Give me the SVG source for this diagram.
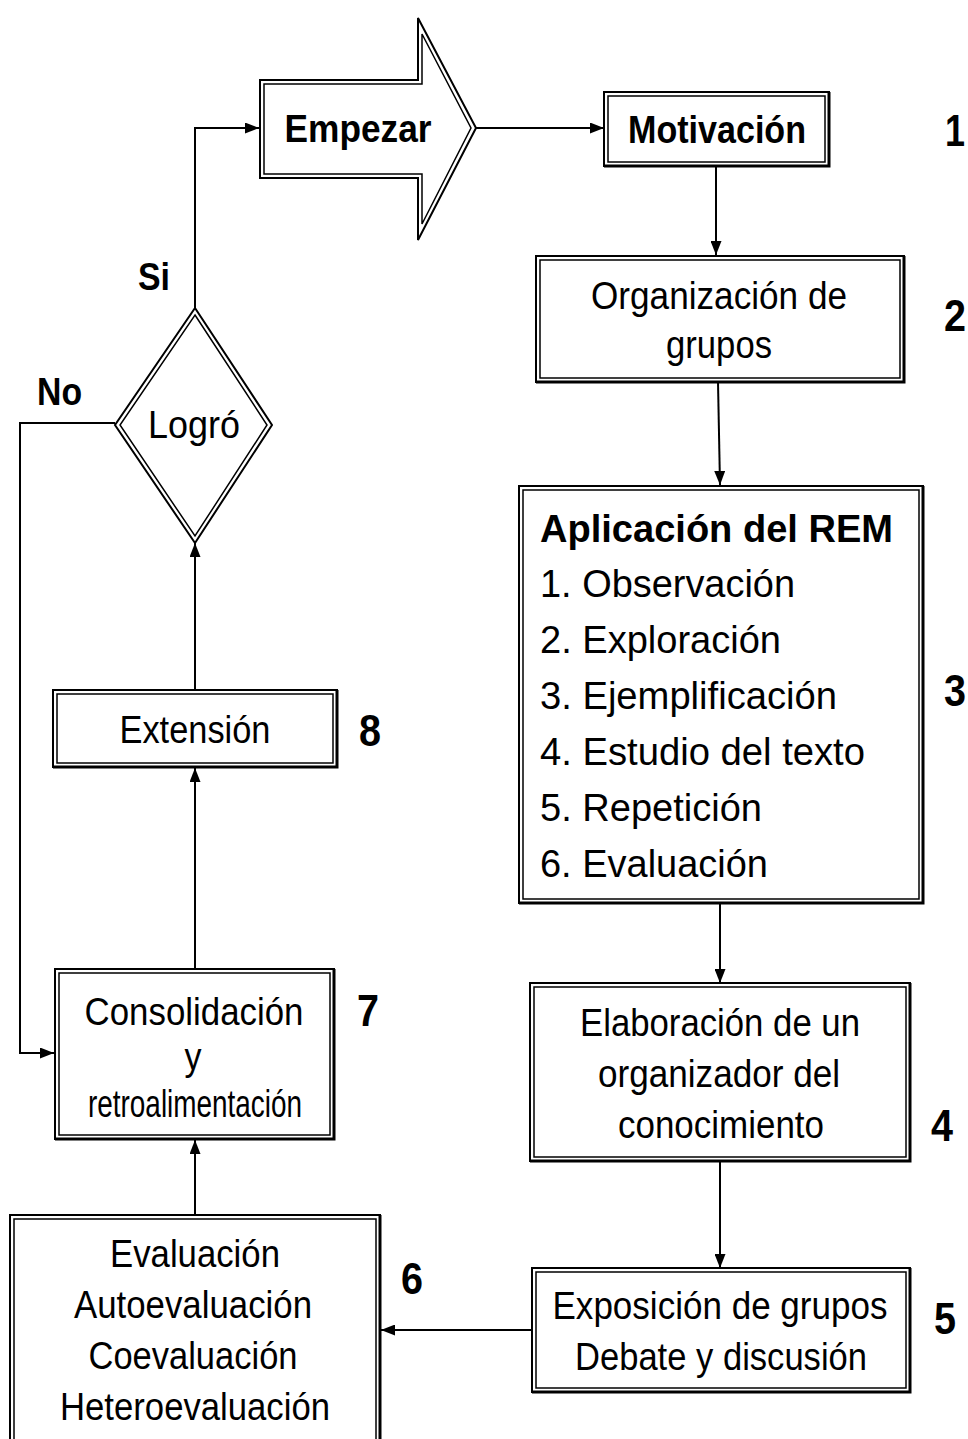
<svg xmlns="http://www.w3.org/2000/svg" width="968" height="1439" viewBox="0 0 968 1439">
<defs>
<marker id="ah" viewBox="0 0 14 11" refX="14" refY="5.5" markerWidth="14" markerHeight="11" markerUnits="userSpaceOnUse" orient="auto">
<path d="M0,0 L14,5.5 L0,11 Z" fill="#000"/>
</marker>
<style>
.o{fill:#fff;stroke:#000;stroke-width:2}
.i{fill:none;stroke:#000;stroke-width:1.5}
.sh{fill:none;stroke:#000;stroke-width:3}
.c{fill:none;stroke:#000;stroke-width:2}
.t{font-family:"Liberation Sans",Arial,sans-serif;font-size:38px;fill:#000}
.m{text-anchor:middle}
.b{font-weight:bold}
.n{font-family:"Liberation Sans",Arial,sans-serif;font-size:44px;font-weight:bold;fill:#000;text-anchor:middle}
</style>
</defs>
<rect width="968" height="1439" fill="#fff"/>

<g id="connectors">
<line class="c" x1="476" y1="128" x2="604" y2="128" marker-end="url(#ah)"/>
<line class="c" x1="716" y1="166" x2="716" y2="255" marker-end="url(#ah)"/>
<line class="c" x1="718" y1="382" x2="720" y2="485" marker-end="url(#ah)"/>
<line class="c" x1="720" y1="903" x2="720" y2="983" marker-end="url(#ah)"/>
<line class="c" x1="720" y1="1161" x2="720" y2="1268" marker-end="url(#ah)"/>
<line class="c" x1="532" y1="1330" x2="381" y2="1330" marker-end="url(#ah)"/>
<line class="c" x1="195" y1="1215" x2="195" y2="1140" marker-end="url(#ah)"/>
<line class="c" x1="195" y1="969" x2="195" y2="768" marker-end="url(#ah)"/>
<line class="c" x1="195" y1="690" x2="195" y2="543" marker-end="url(#ah)"/>
<polyline class="c" points="195,308 195,128 259,128" marker-end="url(#ah)"/>
<polyline class="c" points="115,423 20,423 20,1053 54,1053" marker-end="url(#ah)"/>
<text class="t b" x="138" y="290" font-size="36" textLength="32" lengthAdjust="spacingAndGlyphs">Si</text>
<text class="t b" x="37" y="405" font-size="36" textLength="45" lengthAdjust="spacingAndGlyphs">No</text>
</g>

<g id="empezar">
<polygon class="o" points="260,80 418,80 418,18 476,128 418,240 418,178 260,178"/>
<polygon class="i" points="264,84 422,84 422,34 471,128 422,224 422,174 264,174"/>
<text class="t b" x="358" y="142" text-anchor="middle" textLength="147" lengthAdjust="spacingAndGlyphs">Empezar</text>
</g>

<g id="motivacion">
<rect class="o" x="604" y="92" width="225" height="74"/>
<rect class="i" x="608" y="96" width="217" height="66"/>
<polyline class="sh" points="829,92 829,166 604,166"/>
<text class="t b m" x="717" y="143" textLength="178" lengthAdjust="spacingAndGlyphs">Motivación</text>
<text class="n" x="955" y="146" textLength="20" lengthAdjust="spacingAndGlyphs">1</text>
</g>

<g id="organizacion">
<rect class="o" x="536" y="256" width="368" height="126"/>
<rect class="i" x="540" y="260" width="360" height="118"/>
<polyline class="sh" points="904,256 904,382 536,382"/>
<text class="t m" x="719" y="309" textLength="256" lengthAdjust="spacingAndGlyphs">Organización de</text>
<text class="t m" x="719" y="358" textLength="106" lengthAdjust="spacingAndGlyphs">grupos</text>
<text class="n" x="955" y="331" textLength="22" lengthAdjust="spacingAndGlyphs">2</text>
</g>

<g id="aplicacion">
<rect class="o" x="519" y="486" width="404" height="417"/>
<rect class="i" x="523" y="490" width="396" height="409"/>
<polyline class="sh" points="923,486 923,903 519,903"/>
<text class="t b" x="540" y="542" font-size="41" textLength="353" lengthAdjust="spacingAndGlyphs">Aplicación del REM</text>
<text class="t" x="540" y="597" font-size="40" textLength="255" lengthAdjust="spacingAndGlyphs">1. Observación</text>
<text class="t" x="540" y="653" font-size="40" textLength="241" lengthAdjust="spacingAndGlyphs">2. Exploración</text>
<text class="t" x="540" y="709" font-size="40" textLength="297" lengthAdjust="spacingAndGlyphs">3. Ejemplificación</text>
<text class="t" x="540" y="765" font-size="40" textLength="325" lengthAdjust="spacingAndGlyphs">4. Estudio del texto</text>
<text class="t" x="540" y="821" font-size="40" textLength="222" lengthAdjust="spacingAndGlyphs">5. Repetición</text>
<text class="t" x="540" y="877" font-size="40" textLength="228" lengthAdjust="spacingAndGlyphs">6. Evaluación</text>
<text class="n" x="955" y="706" textLength="22" lengthAdjust="spacingAndGlyphs">3</text>
</g>

<g id="elaboracion">
<rect class="o" x="530" y="983" width="380" height="178"/>
<rect class="i" x="534" y="987" width="372" height="170"/>
<polyline class="sh" points="910,983 910,1161 530,1161"/>
<text class="t m" x="720" y="1036" textLength="280" lengthAdjust="spacingAndGlyphs">Elaboración de un</text>
<text class="t m" x="719" y="1087" textLength="242" lengthAdjust="spacingAndGlyphs">organizador del</text>
<text class="t m" x="721" y="1138" textLength="206" lengthAdjust="spacingAndGlyphs">conocimiento</text>
<text class="n" x="942" y="1141" textLength="22" lengthAdjust="spacingAndGlyphs">4</text>
</g>

<g id="exposicion">
<rect class="o" x="532" y="1268" width="378" height="124"/>
<rect class="i" x="536" y="1272" width="370" height="116"/>
<polyline class="sh" points="910,1268 910,1392 532,1392"/>
<text class="t m" x="720" y="1319" textLength="335" lengthAdjust="spacingAndGlyphs">Exposición de grupos</text>
<text class="t m" x="721" y="1370" textLength="292" lengthAdjust="spacingAndGlyphs">Debate y discusión</text>
<text class="n" x="945" y="1334" textLength="22" lengthAdjust="spacingAndGlyphs">5</text>
</g>

<g id="evaluacion">
<rect class="o" x="10" y="1215" width="370" height="240"/>
<rect class="i" x="14" y="1219" width="362" height="240"/>
<line class="sh" x1="380" y1="1215" x2="380" y2="1439"/>
<text class="t m" x="195" y="1267" textLength="170" lengthAdjust="spacingAndGlyphs">Evaluación</text>
<text class="t m" x="193" y="1318" textLength="238" lengthAdjust="spacingAndGlyphs">Autoevaluación</text>
<text class="t m" x="193" y="1369" textLength="209" lengthAdjust="spacingAndGlyphs">Coevaluación</text>
<text class="t m" x="195" y="1420" textLength="270" lengthAdjust="spacingAndGlyphs">Heteroevaluación</text>
<text class="n" x="412" y="1294" textLength="22" lengthAdjust="spacingAndGlyphs">6</text>
</g>

<g id="consolidacion">
<rect class="o" x="55" y="969" width="279" height="170"/>
<rect class="i" x="59" y="973" width="271" height="162"/>
<polyline class="sh" points="334,969 334,1139 55,1139"/>
<text class="t m" x="194" y="1025" textLength="219" lengthAdjust="spacingAndGlyphs">Consolidación</text>
<text class="t m" x="193" y="1070" textLength="17" lengthAdjust="spacingAndGlyphs">y</text>
<text class="t m" x="195" y="1117" font-size="27" textLength="214" lengthAdjust="spacingAndGlyphs">retroalimentación</text>
<text class="n" x="368" y="1026" textLength="22" lengthAdjust="spacingAndGlyphs">7</text>
</g>

<g id="extension">
<rect class="o" x="53" y="690" width="284" height="77"/>
<rect class="i" x="57" y="694" width="276" height="69"/>
<polyline class="sh" points="337,690 337,767 53,767"/>
<text class="t m" x="195" y="743" textLength="151" lengthAdjust="spacingAndGlyphs">Extensión</text>
<text class="n" x="370" y="746" textLength="22" lengthAdjust="spacingAndGlyphs">8</text>
</g>

<g id="logro">
<polygon class="o" points="195,308 272,425 195,543 115,425"/>
<polygon class="i" points="195,315 267,425 195,536 120,425"/>
<text class="t m" x="194" y="438" textLength="92" lengthAdjust="spacingAndGlyphs">Logró</text>
</g>
</svg>
